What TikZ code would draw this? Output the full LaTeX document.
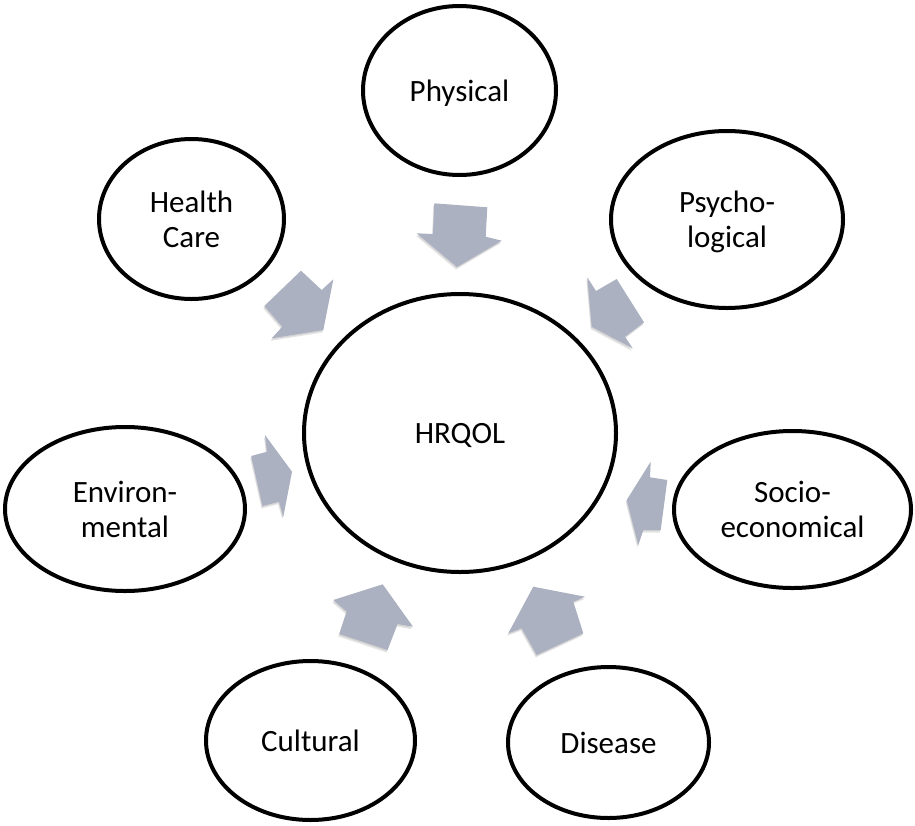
\documentclass[tikz,border=0pt]{standalone}
\usepackage{fontspec}
\setmainfont{Carlito}
\usetikzlibrary{shapes.geometric}
\definecolor{arrowc}{HTML}{ABB1C1}
\newcommand\blockarr[1]{%
  \fill[black, opacity=0.10, shift={(-1,2.5)}] #1 -- cycle;
  \fill[black, opacity=0.08, shift={(-0.5,1.2)}] #1 -- cycle;
  \fill[arrowc] #1 -- cycle;}
\begin{document}
\begin{tikzpicture}[x=1pt,y=-1pt,
  bubble/.style={ellipse, draw=black, line width=4pt, inner sep=0pt,
    align=center, text depth=0pt, font=\fontsize{31}{35}\selectfont}]
\useasboundingbox (0,0) rectangle (915,825);

% block arrows
\blockarr{(434.3,203.3) -- (487.3,207.3) -- (485.7,236.7) -- (501.7,240.7) -- (457,267) -- (416.7,233.3) -- (433,234)}
\blockarr{(301,270.7) -- (321.7,290) -- (333.3,279.3) -- (323.3,330) -- (271.7,338.3) -- (282.3,326.7) -- (264.3,306)}
\blockarr{(587.3,277.3) -- (596,291) -- (616.7,279) -- (644,322.3) -- (625,336.7) -- (632.7,348.3) -- (591.7,326.7)}
\blockarr{(650.7,461.7) -- (626.7,500) -- (638.3,545) -- (643.3,530) -- (660.7,530) -- (667.3,480) -- (650,477.3)}
\blockarr{(508.3,633.3) -- (533.3,586.7) -- (585,596.7) -- (573.3,601.7) -- (583.3,633.3) -- (536.7,655) -- (521.7,628.3)}
\blockarr{(333.3,600) -- (382.7,584.3) -- (413,626.7) -- (397.5,624) -- (387.5,650) -- (339.3,634) -- (346.7,611.5)}
\blockarr{(265,435) -- (292,471.7) -- (283.3,516.7) -- (279,501.7) -- (262.5,506) -- (251.2,456) -- (267,451.7)}

% ellipses
\node[bubble, minimum width=312pt, minimum height=278pt] (hrqol) at (460,433) {HRQOL};
\node[bubble, minimum width=193pt, minimum height=169pt] (phys) at (459.5,90.5) {Physical};
\node[bubble, minimum width=185pt, minimum height=160pt] (care) at (191.5,219) {Health\\Care};
\node[bubble, minimum width=232pt, minimum height=177pt] (psych) at (727,219.5) {Psycho-\\logical};
\node[bubble, minimum width=240pt, minimum height=164pt] (env) at (125,509) {Environ-\\mental};
\node[bubble, minimum width=237pt, minimum height=157pt] (socio) at (792.5,509.5) {Socio-\\economical};
\node[bubble, minimum width=209pt, minimum height=159pt] (cult) at (310.5,740.5) {Cultural};
\node[bubble, minimum width=201pt, minimum height=151pt] (dis) at (608.5,742.5) {Disease};
\end{tikzpicture}
\end{document}
